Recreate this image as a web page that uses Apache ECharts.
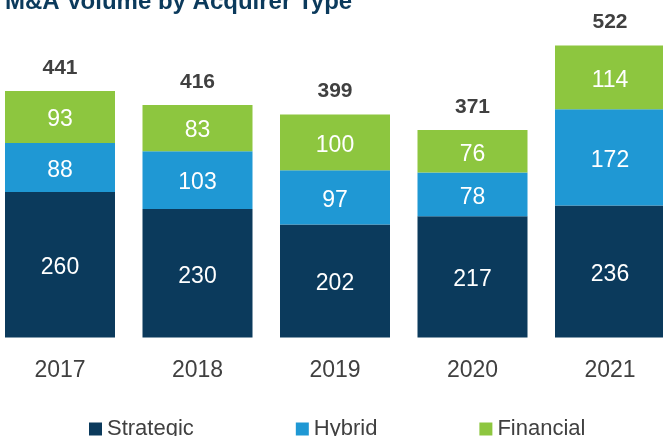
<!DOCTYPE html>
<html>
<head>
<meta charset="utf-8">
<script src="https://cdn.jsdelivr.net/npm/echarts@6/dist/echarts.min.js"></script>
<style>html,body{margin:0;padding:0;background:#fff;}#c{width:663px;height:436px;}</style>
</head>
<body>
<div id="c"></div>
<script>
const titleText = 'M&A Volume by Acquirer Type';
const years = ['2017', '2018', '2019', '2020', '2021'];
const strategic = [260, 230, 202, 217, 236];
const hybrid = [88, 103, 97, 78, 172];
const financial = [93, 83, 100, 76, 114];
const totals = [441, 416, 399, 371, 522];

const FONT = '"Liberation Sans", Arial, sans-serif';
const chart = echarts.init(document.getElementById('c'), null, {renderer: 'canvas'});
const inside = {show: true, position: 'inside', offset: [0, 3], color: '#ffffff', fontSize: 23, fontFamily: FONT};
chart.setOption({
  animation: false,
  title: {
    text: titleText, left: 0, top: -15,
    textStyle: {fontSize: 24, fontWeight: 'bold', color: '#0b3a5c', fontFamily: FONT}
  },
  legend: {
    data: ['Strategic', 'Hybrid', 'Financial'],
    left: 84, top: 413, itemGap: 102, itemWidth: 13, itemHeight: 13, icon: 'rect',
    textStyle: {fontSize: 22, color: '#404040', fontFamily: FONT}
  },
  grid: {left: -8.75, width: 687.5, top: 2, height: 335.5, containLabel: false, outerBoundsMode: 'none'},
  xAxis: {
    type: 'category', data: years,
    axisLine: {show: false}, axisTick: {show: false},
    axisLabel: {fontSize: 23, color: '#404040', margin: 22, fontFamily: FONT}
  },
  yAxis: {type: 'value', min: 0, max: 600, show: false, splitLine: {show: false}},
  series: [
    {name: 'Strategic', type: 'bar', stack: 'a', barWidth: 110, data: strategic,
     itemStyle: {color: '#0b3a5c'}, label: inside},
    {name: 'Hybrid', type: 'bar', stack: 'a', barWidth: 110, data: hybrid,
     itemStyle: {color: '#1f98d4'}, label: inside},
    {name: 'Financial', type: 'bar', stack: 'a', barWidth: 110, data: financial,
     itemStyle: {color: '#8dc63f'}, label: inside},
    {name: 'Total', type: 'line', data: totals, symbol: 'circle', symbolSize: 1,
     itemStyle: {color: 'rgba(0,0,0,0)'}, lineStyle: {opacity: 0}, silent: true,
     label: {show: true, position: 'top', distance: 12, fontSize: 21, fontWeight: 'bold', color: '#404040', fontFamily: FONT}}
  ]
});
</script>
</body>
</html>
